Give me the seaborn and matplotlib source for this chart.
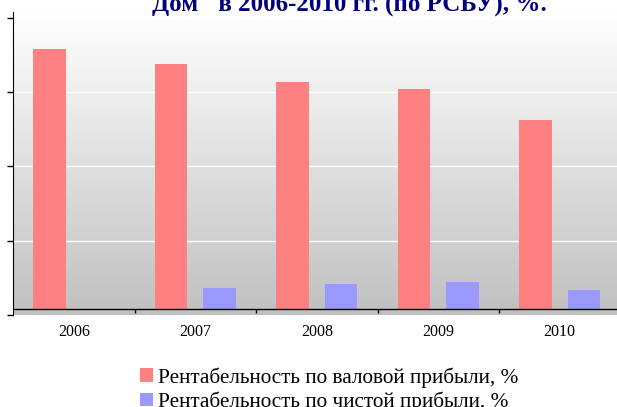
import numpy as np
import pandas as pd
import matplotlib
matplotlib.use("Agg")
import matplotlib.pyplot as plt
from matplotlib.patches import Patch
import seaborn as sns

# values (percent)
YEARS = ["2006", "2007", "2008", "2009", "2010"]
GROSS = [34.9, 32.9, 30.5, 29.5, 25.4]
NET = [-0.16, 2.76, 3.3, 3.57, 2.49]
SERIES = ["Рентабельность по валовой прибыли, %",
          "Рентабельность по чистой прибыли, %"]
TITLE = 'Дом" в 2006-2010 гг. (по РСБУ), %.'

RED = "#FF8080"
BLUE = "#9999FF"
NAVY = "#000080"
SERIF = "Liberation Serif"


def main() -> None:
    df = pd.DataFrame({
        "year": YEARS * 2,
        "value": GROSS + NET,
        "series": [SERIES[0]] * len(YEARS) + [SERIES[1]] * len(YEARS),
    })

    fig = plt.figure(figsize=(6.17, 4.07), dpi=100)
    ax = fig.add_axes([13 / 617, 92 / 407, 607.5 / 617, 303 / 407])

    # grey gradient plot area, white on top
    grad = np.linspace(1.0, 0.753, 256).reshape(-1, 1)
    ax.imshow(np.dstack([grad, grad, grad]), extent=[0, 1, 0, 1],
              transform=ax.transAxes, aspect="auto", zorder=0)

    sns.barplot(data=df, x="year", y="value", hue="series",
                palette=[RED, BLUE], saturation=1, errorbar=None,
                width=0.8, gap=0.325, legend=False, ax=ax, zorder=3)

    ymin, ymax = -0.875, 39.93
    ax.set_ylim(ymin, ymax)
    ax.set_xlim(-0.5, len(YEARS) - 0.5)
    yt = ymin + 10 * np.arange(5)
    ax.set_yticks(yt)
    ax.set_yticklabels([])
    for y in yt[1:4]:
        ax.axhline(y, color="white", lw=1, zorder=1)
    ax.tick_params(axis="y", direction="out", length=4.5, width=1, color="black")

    ax.set_xlabel("")
    ax.set_ylabel("")
    ax.tick_params(axis="x", length=0, pad=6.5, labelsize=11.5)
    for lab in ax.get_xticklabels():
        lab.set_fontfamily(SERIF)

    for s in ["top", "right", "bottom"]:
        ax.spines[s].set_visible(False)
    ax.spines["left"].set_color("black")
    ax.axhline(0, color="black", lw=1, zorder=4)
    ax.vlines(np.arange(len(YEARS) - 1) + 0.5, -0.65, 0, color="black",
              lw=1, zorder=4, clip_on=False)

    fig.text(349 / 617, 1 - 12 / 407, TITLE, ha="center", va="baseline",
             fontsize=18, fontweight="bold", color=NAVY, fontfamily=SERIF)

    handles = [Patch(facecolor=RED), Patch(facecolor=BLUE)]
    fig.legend(handles, SERIES, loc="upper left",
               bbox_to_anchor=(123 / 617, 1 - 350 / 407), frameon=False,
               prop={"family": SERIF, "size": 15.3}, handlelength=0.6,
               handleheight=0.6, handletextpad=0.23, labelspacing=0.18,
               borderpad=0.3)

    fig.savefig("out.png", dpi=100)


if __name__ == "__main__":
    main()
